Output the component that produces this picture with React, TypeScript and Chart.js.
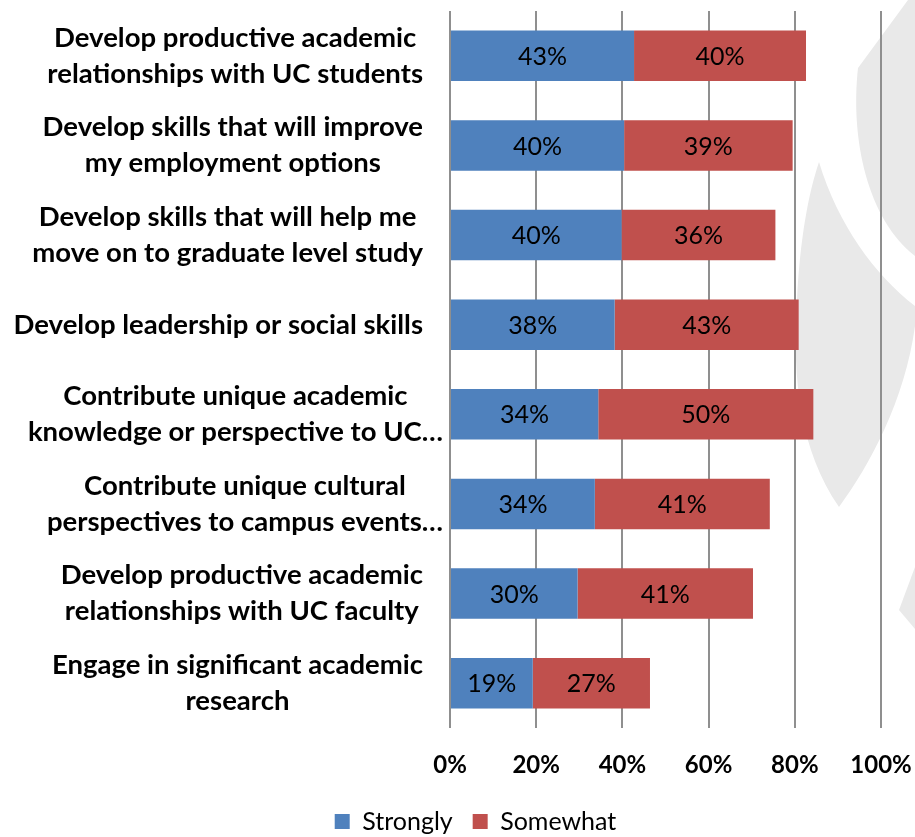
import React, { useEffect, useRef } from "react";
import { Chart, registerables } from "chart.js";

Chart.register(...registerables);

const categories: string[][] = [
  ["Develop productive academic", "relationships with UC students"],
  ["Develop skills that will improve", "my employment options"],
  ["Develop skills that will help me", "move on to graduate level study"],
  ["Develop leadership or social skills"],
  ["Contribute unique academic", "knowledge or perspective to UC…"],
  ["Contribute unique cultural", "perspectives to campus events…"],
  ["Develop productive academic", "relationships with UC faculty"],
  ["Engage in significant academic", "research"],
];
const seriesNames = ["Strongly", "Somewhat"];
const strongly = [42.7, 40.4, 39.8, 38.2, 34.4, 33.6, 29.6, 19.2];
const somewhat = [39.9, 39.1, 35.7, 42.7, 49.9, 40.6, 40.7, 27.2];
const xMin = 0;
const xMax = 100;
const xStep = 20;

const BLUE = "#4F81BD";
const RED = "#C0504D";
const GRID = "#8f8f8f";
const FONT = "Lato, 'Open Sans', sans-serif";

const watermark = {
  id: "watermark",
  beforeDraw(chart: any) {
    const ctx = chart.ctx;
    ctx.save();
    ctx.fillStyle = "#e9e9e9";
    // top-right crescent
    ctx.beginPath();
    ctx.moveTo(908, 0);
    ctx.lineTo(858, 68);
    ctx.bezierCurveTo(850, 140, 868, 220, 915, 256);
    ctx.lineTo(915, 0);
    ctx.closePath();
    ctx.fill();
    // middle leaf
    ctx.beginPath();
    ctx.moveTo(819, 162);
    ctx.bezierCurveTo(838, 225, 875, 275, 915, 306);
    ctx.lineTo(915, 326);
    ctx.bezierCurveTo(905, 400, 870, 465, 839, 507);
    ctx.bezierCurveTo(800, 450, 792, 380, 797, 300);
    ctx.bezierCurveTo(800, 240, 808, 195, 819, 162);
    ctx.closePath();
    ctx.fill();
    // bottom corner piece
    ctx.beginPath();
    ctx.moveTo(899, 610);
    ctx.lineTo(915, 567);
    ctx.lineTo(915, 629);
    ctx.closePath();
    ctx.fill();
    ctx.restore();
  },
};

const valueLabels = {
  id: "valueLabels",
  afterDatasetsDraw(chart: any) {
    const ctx = chart.ctx;
    ctx.save();
    ctx.font = `25px ${FONT}`;
    ctx.fillStyle = "#000";
    ctx.textAlign = "center";
    ctx.textBaseline = "middle";
    chart.data.datasets.forEach((ds: any, di: number) => {
      const meta = chart.getDatasetMeta(di);
      meta.data.forEach((el: any, i: number) => {
        const v = ds.data[i];
        const cx = (el.x + el.base) / 2;
        ctx.fillText(Math.round(v) + "%", cx, el.y + 1);
      });
    });
    ctx.restore();
  },
};

const categoryLabels = {
  id: "categoryLabels",
  afterDraw(chart: any) {
    const ctx = chart.ctx;
    const yScale = chart.scales.y;
    const lineH = 36;
    ctx.save();
    ctx.font = `bold 27.5px ${FONT}`;
    ctx.fillStyle = "#000";
    ctx.textAlign = "center";
    ctx.textBaseline = "middle";
    (chart.data.labels as string[][]).forEach((lines, i) => {
      const cy = yScale.getPixelForTick(i);
      const truncated = lines.some((l) => l.endsWith("…"));
      const right = truncated ? 443 : 423;
      const w = Math.max(...lines.map((l) => ctx.measureText(l).width));
      const cx = right - w / 2;
      const y0 = cy - ((lines.length - 1) * lineH) / 2;
      lines.forEach((l, k) => ctx.fillText(l, cx, y0 + k * lineH));
    });
    ctx.restore();
  },
};

const legendShift = {
  id: "legendShift",
  afterLayout(chart: any) {
    const lg = chart.legend;
    if (lg) {
      lg.left += 35;
      lg.right += 35;
      lg.top += 7;
      lg.bottom += 7;
    }
  },
};

export default function App() {
  const ref = useRef<HTMLCanvasElement>(null);
  useEffect(() => {
    document.body.style.margin = "0";
    const chart = new Chart(ref.current!, {
      type: "bar",
      data: {
        labels: categories as any,
        datasets: [
          {
            label: seriesNames[0],
            data: strongly,
            backgroundColor: BLUE,
            categoryPercentage: 1,
            barPercentage: 0.563,
          },
          {
            label: seriesNames[1],
            data: somewhat,
            backgroundColor: RED,
            categoryPercentage: 1,
            barPercentage: 0.563,
          },
        ],
      },
      options: {
        indexAxis: "y",
        responsive: false,
        animation: false,
        devicePixelRatio: 1,
        layout: { padding: { top: 11, right: 34, left: 0, bottom: 0 } },
        scales: {
          x: {
            stacked: true,
            min: xMin,
            max: xMax,
            ticks: {
              stepSize: xStep,
              callback: (v: any) => v + "%",
              color: "#000",
              font: { family: FONT, size: 24, weight: "bold" },
              padding: 23,
            },
            grid: { color: GRID, lineWidth: 2, drawTicks: false },
            border: { display: false },
            afterFit: (s: any) => {
              s.height = 54;
              s.paddingLeft = 0;
              s.paddingRight = 0;
            },
          },
          y: {
            stacked: true,
            ticks: { display: false },
            grid: { display: false },
            border: { display: false },
            afterFit: (s: any) => {
              s.width = 450;
            },
          },
        },
        plugins: {
          legend: {
            position: "bottom",
            labels: {
              boxWidth: 15,
              boxHeight: 15,
              padding: 20,
              color: "#000",
              font: { family: FONT, size: 25 },
            },
          },
          tooltip: { enabled: false },
        },
      },
      plugins: [watermark, valueLabels, categoryLabels, legendShift],
    });
    return () => chart.destroy();
  }, []);
  return (
    <div style={{ width: 915, height: 837 }}>
      <canvas ref={ref} width={915} height={837} />
    </div>
  );
}
